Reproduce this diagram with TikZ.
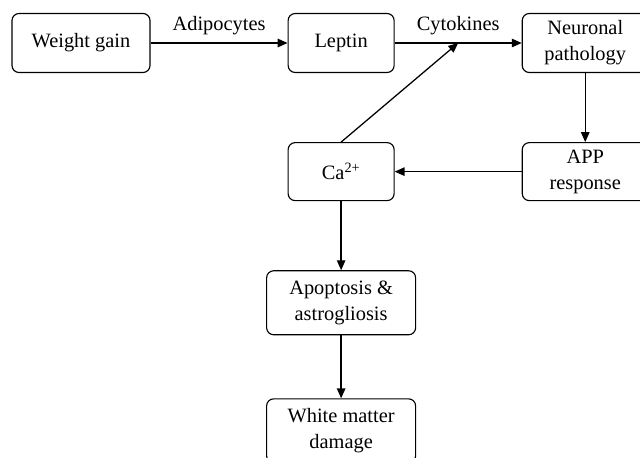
\documentclass[tikz,border=0pt]{standalone}
\usepackage{fontspec}
\setmainfont{Liberation Serif}
\usetikzlibrary{arrows.meta,positioning,calc}

\begin{document}
\begin{tikzpicture}[
  box/.style={draw, rounded corners=5pt, line width=0.8pt,
              minimum height=1.475cm, align=center,
              font=\fontsize{14.5}{18.5}\selectfont},
  arrow/.style={-{Triangle[length=7pt, width=6pt]}, line width=0.9pt},
  lbl/.style={font=\fontsize{14.5}{18.5}\selectfont, above=2pt}
]
\useasboundingbox (0,0) rectangle (16,-11.425);

% Top row
\node[box, minimum width=3.45cm] (wg) at (2.025,-1.075) {Weight gain};
\node[box, minimum width=2.65cm, right=3.425cm of wg] (lep) {Leptin};
\node[box, minimum width=3.15cm, right=3.175cm of lep] (neu) {Neuronal\\pathology};

% Feedback row and cascade
\node[box, minimum width=3.15cm, minimum height=1.45cm, below=1.725cm of neu] (app) {APP\\response};
\node[box, minimum width=2.65cm, minimum height=1.45cm, left=3.175cm of app] (ca) {Ca\textsuperscript{2+}};
\node[box, minimum width=3.725cm, minimum height=1.6cm, below=1.725cm of ca] (apo) {Apoptosis \&\\astrogliosis};
\node[box, minimum width=3.725cm, minimum height=1.6cm, below=1.575cm of apo] (wm) {White matter\\damage};

\coordinate (join) at ($(lep.east)!0.5!(neu.west)$);

% Arrows
\draw[arrow] (wg) -- node[lbl] (adi) {Adipocytes} (lep);
\draw[arrow] (lep) -- node[lbl] (cyt) {Cytokines} (neu);
\draw[arrow] (neu) -- (app);
\draw[arrow] (app) -- (ca);
\draw[arrow] (ca.north) -- (join);
\draw[arrow] (ca) -- (apo);
\draw[arrow] (apo) -- (wm);
\end{tikzpicture}
\end{document}
